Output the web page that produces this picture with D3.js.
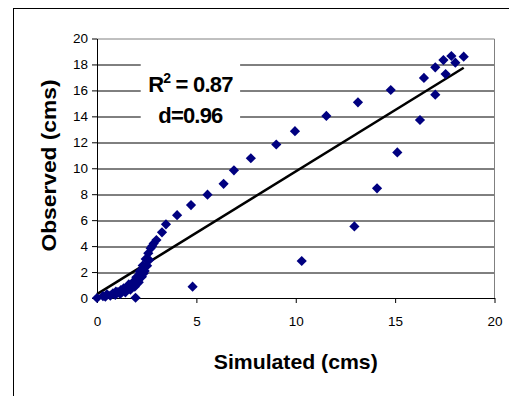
<!DOCTYPE html>
<html>
<head>
<meta charset="utf-8">
<script src="https://cdn.jsdelivr.net/npm/d3@7"></script>
<style>
  body { margin: 0; background: #fff; }
  svg { display: block; font-family: "Liberation Sans", Arial, sans-serif; }
</style>
</head>
<body>
<svg width="509" height="396"></svg>
<script>
// simulated vs observed flow (cms)
var simulated = [0, 0.42, 0.5, 0.67, 0.8, 0.92, 0.95, 1.17, 1.2, 1.34, 1.43, 1.55, 1.68, 1.8, 1.9,
    1.98, 2.1, 2.15, 2.26, 2.3, 2.4, 2.45, 2.52, 2.58, 2.63, 2.7, 2.78, 2.99, 3.27, 3.47,
    4.03, 4.73, 5.56, 6.37, 6.89, 7.74, 9.02, 9.96, 11.54, 13.13, 14.78,
    1.94, 4.81, 10.3, 12.95, 14.09, 15.11, 16.25, 16.45, 17.02, 17.02, 17.43, 17.54, 17.83, 18.03, 18.45,
    0.3, 1.05, 1.6, 2.05, 2.35, 2.85];
var observed = [0, 0.10, 0.28, 0.18, 0.35, 0.23, 0.49, 0.31, 0.6, 0.75, 0.44, 0.9, 0.64, 1.2, 0.87,
    1.6, 1.21, 2.05, 1.64, 2.5, 2.08, 3.0, 2.49, 3.45, 2.93, 3.83, 4.0, 4.47, 5.06, 5.68,
    6.38, 7.16, 7.96, 8.8, 9.84, 10.77, 11.83, 12.86, 14.03, 15.08, 16.03,
    0.02, 0.87, 2.85, 5.52, 8.45, 11.22, 13.72, 16.96, 15.67, 17.78, 18.34, 17.26, 18.65, 18.14, 18.6,
    0.15, 0.45, 1.05, 1.4, 1.9, 4.2];

// linear trend line end points
var trendX = [0, 18.45];
var trendY = [0.3, 17.75];

var xTicks = [0, 5, 10, 15, 20];
var yTicks = [0, 2, 4, 6, 8, 10, 12, 14, 16, 18, 20];

var svg = d3.select("svg"),
    margin = {top: 38.5, right: 14.5, bottom: 98, left: 97},
    width = +svg.attr("width") - margin.left - margin.right,
    height = +svg.attr("height") - margin.top - margin.bottom;

// chart frame (runs off the right and bottom edge)
svg.append("rect")
    .attr("x", 13.5).attr("y", 8.5)
    .attr("width", 600).attr("height", 500)
    .attr("fill", "none")
    .attr("stroke", "#000");

var g = svg.append("g").attr("transform", "translate(" + margin.left + "," + margin.top + ")");

var x = d3.scaleLinear().domain([0, 20]).range([0, width]),
    y = d3.scaleLinear().domain([0, 20]).range([height, 0]);

// gridlines
g.selectAll(".grid")
    .data(yTicks.filter(d => d > 0 && d < 20))
    .join("line")
    .attr("class", "grid")
    .attr("x1", 0).attr("x2", width)
    .attr("y1", d => Math.round(y(d)) + 0.5)
    .attr("y2", d => Math.round(y(d)) + 0.5)
    .attr("stroke", "#000")
    .attr("stroke-width", 1);

// plot border top / right
g.append("path")
    .attr("d", "M0," + 0.5 + "H" + width + "V" + height)
    .attr("fill", "none")
    .attr("stroke", "#808080");

// annotation box (hides gridlines)
var note = g.append("g");
note.append("rect")
    .attr("x", x(2.2)).attr("y", y(18.7))
    .attr("width", x(7.2) - x(2.2)).attr("height", y(13.4) - y(18.7))
    .attr("fill", "#fff");
var t1 = note.append("text")
    .attr("x", x(4.7)).attr("y", y(15.9))
    .attr("text-anchor", "middle")
    .style("font-size", "22px").style("font-weight", "bold")
    .attr("letter-spacing", "-0.8");
t1.append("tspan").text("R");
t1.append("tspan").attr("dy", -9).style("font-size", "14px").text("2");
t1.append("tspan").attr("dy", 9).text(" = 0.87");
note.append("text")
    .attr("x", x(4.7)).attr("y", y(13.5))
    .attr("text-anchor", "middle")
    .style("font-size", "22px").style("font-weight", "bold")
    .attr("letter-spacing", "-0.8")
    .text("d=0.96");

// axes
var xAxis = g.append("g")
    .attr("transform", "translate(0," + height + ")")
    .call(d3.axisBottom(x).tickValues(xTicks).tickSize(5).tickPadding(13).tickSizeOuter(0));
var yAxis = g.append("g")
    .call(d3.axisLeft(y).tickValues(yTicks).tickSize(5).tickPadding(4).tickSizeOuter(0));

[xAxis, yAxis].forEach(function(a) {
    a.selectAll("text").style("font-size", "13.5px").attr("fill", "#000")
        .style("font-family", "'Liberation Sans', Arial, sans-serif");
    a.selectAll("line, path").attr("stroke", "#000");
});

// trend line
g.append("line")
    .attr("x1", x(trendX[0])).attr("y1", y(trendY[0]))
    .attr("x2", x(trendX[1])).attr("y2", y(trendY[1]))
    .attr("stroke", "#000")
    .attr("stroke-width", 2.5);

// points
var diamond = d3.symbol().type(d3.symbolSquare).size(52);
g.selectAll(".pt")
    .data(simulated.map((d, i) => [d, observed[i]]))
    .join("path")
    .attr("class", "pt")
    .attr("d", diamond)
    .attr("transform", d => "translate(" + x(d[0]) + "," + y(d[1]) + ") rotate(45)")
    .attr("fill", "#000080");

// axis titles
svg.append("text")
    .attr("x", margin.left + width / 2)
    .attr("y", 369)
    .attr("text-anchor", "middle")
    .style("font-size", "21px").style("font-weight", "bold")
    .attr("textLength", 164).attr("lengthAdjust", "spacingAndGlyphs")
    .text("Simulated (cms)");

svg.append("text")
    .attr("transform", "rotate(-90)")
    .attr("x", -165.5)
    .attr("y", 56)
    .attr("text-anchor", "middle")
    .style("font-size", "21px").style("font-weight", "bold")
    .attr("textLength", 172).attr("lengthAdjust", "spacingAndGlyphs")
    .text("Observed (cms)");
</script>
</body>
</html>
